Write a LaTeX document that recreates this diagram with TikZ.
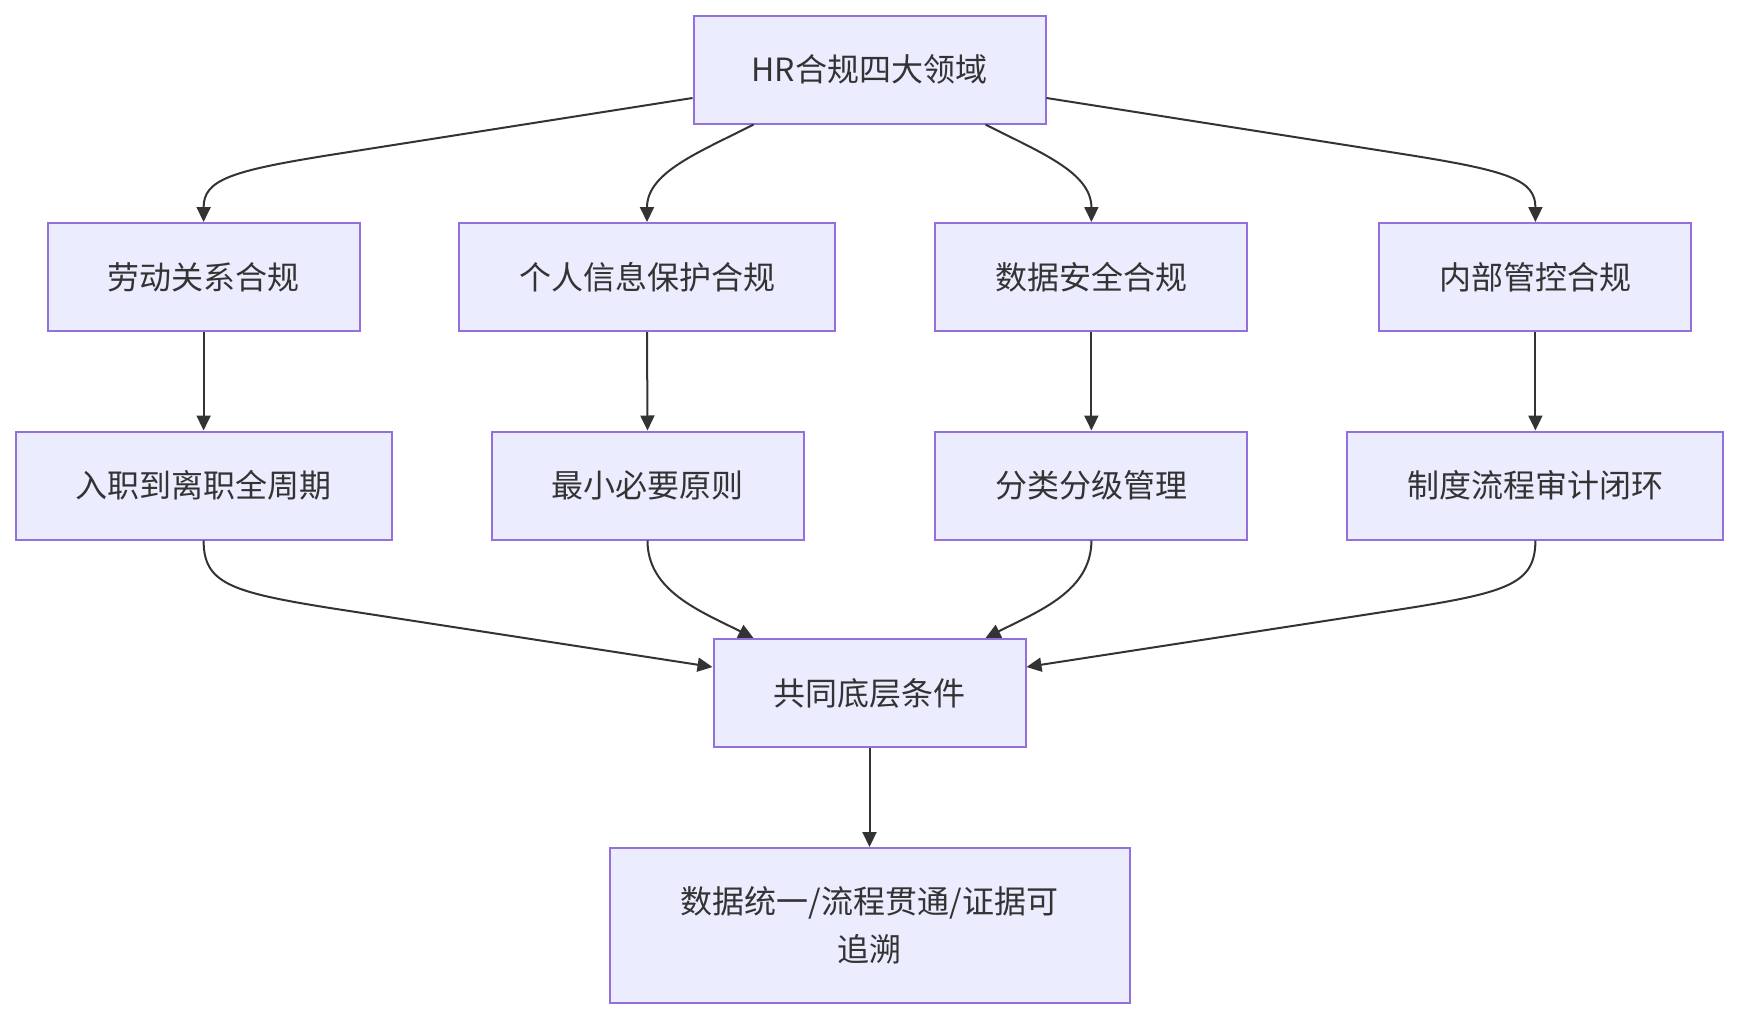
\documentclass[tikz,border=0pt]{standalone}
\usepackage{fontspec}
\newfontfamily\cjk{Noto Sans CJK SC}
\usetikzlibrary{arrows.meta}
\definecolor{boxfill}{HTML}{ECECFF}
\definecolor{boxline}{HTML}{9370DB}
\definecolor{ink}{HTML}{333333}
\tikzset{
  box/.style={draw=boxline, fill=boxfill, line width=2pt, inner sep=0pt,
    minimum height=108pt, text=ink, align=center,
    font=\cjk\fontsize{32}{48}\selectfont},
  conn/.style={draw=ink, line width=2pt, -{Triangle[length=15pt,width=14pt]}}
}
\begin{document}
\begin{tikzpicture}[x=1pt,y=-1pt]
\useasboundingbox[fill=white] (0,0) rectangle (1740,1020);
\node[box, minimum width=352pt] (A) at (869.5,69.5) {HR合规四大领域};
\node[box, minimum width=312pt] (B1) at (203.6,277) {劳动关系合规};
\node[box, minimum width=376pt] (B2) at (647,277) {个人信息保护合规};
\node[box, minimum width=312pt] (B3) at (1091.4,277) {数据安全合规};
\node[box, minimum width=312pt] (B4) at (1535.4,277) {内部管控合规};
\node[box, minimum width=376pt] (C1) at (203.6,485.5) {入职到离职全周期};
\node[box, minimum width=312pt] (C2) at (647.5,485.5) {最小必要原则};
\node[box, minimum width=312pt] (C3) at (1091.4,485.5) {分类分级管理};
\node[box, minimum width=376pt] (C4) at (1535.4,485.5) {制度流程审计闭环};
\node[box, minimum width=312pt] (D) at (869.5,693) {共同底层条件};
\node[box, minimum width=520pt, minimum height=155pt] (E) at (869.5,925.5) {数据统一/流程贯通/证据可\\追溯};

% top fan-out
\draw[conn] ([yshift=-28.5pt]A.west) -- (330,155) .. controls (230,171) and (B1.north|-0,180) .. (B1.north);
\draw[conn] ([xshift=-116pt]A.south) .. controls (700,152) and (B2.north|-0,172) .. (B2.north);
\draw[conn] ([xshift=116pt]A.south) .. controls (1039,152) and (B3.north|-0,172) .. (B3.north);
\draw[conn] ([yshift=-28.5pt]A.east) -- (1409,155) .. controls (1509,171) and (B4.north|-0,180) .. (B4.north);

% vertical
\draw[conn] (B1.south) -- (C1.north);
\draw[conn] (B2.south) -- (C2.north);
\draw[conn] (B3.south) -- (C3.north);
\draw[conn] (B4.south) -- (C4.north);

% fan-in
\draw[conn] (C1.south) .. controls (C1.south|-0,583) and (230,592) .. (330,608) -- ([yshift=26pt]D.west);
\draw[conn] (C2.south) .. controls (C2.south|-0,591) and (700,611) .. ([xshift=-116pt]D.north);
\draw[conn] (C3.south) .. controls (C3.south|-0,591) and (1039,611) .. ([xshift=116pt]D.north);
\draw[conn] (C4.south) .. controls (C4.south|-0,583) and (1509,592) .. (1409,608) -- ([yshift=26pt]D.east);

\draw[conn] (D.south) -- (E.north);
\end{tikzpicture}
\end{document}
